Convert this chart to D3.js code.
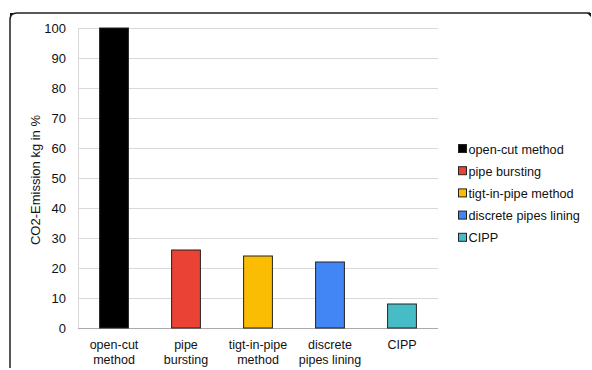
<!DOCTYPE html>
<html><head><meta charset="utf-8">
<script src="https://cdn.jsdelivr.net/npm/d3@7"></script>
<style>body{margin:0;background:#fff}svg{display:block;font-family:"Liberation Sans",Arial,sans-serif}</style>
</head><body><svg id="c" width="592" height="370"></svg>
<script>
const categories = ["open-cut method","pipe bursting","tigt-in-pipe method","discrete pipes lining","CIPP"];
const axisLabels = [["open-cut","method"],["pipe","bursting"],["tigt-in-pipe","method"],["discrete","pipes lining"],["CIPP"]];
const values = [100, 26, 24, 22, 8];
const colors = ["#000000","#EA4335","#FBBC04","#4285F4","#46BDC6"];
const yTicks = [0,10,20,30,40,50,60,70,80,90,100];
const yTitle = "CO2-Emission kg  in %";

const svg = d3.select("#c");
// frame with dark corner spots
svg.append("path").attr("d","M10,13 L17,13 Q10,13 10,20 Z").attr("fill","#111");
svg.append("path").attr("d","M587,13 L591,13 L591,17 Z").attr("fill","#111");
svg.append("path").attr("d","M10,368 L10,20 Q10,13 17,13 L590,13")
  .attr("fill","none").attr("stroke","#222").attr("stroke-width",1.5);

const x = d3.scaleBand().domain(categories).range([78,438]).paddingInner(0.6).paddingOuter(0.3);
const y = d3.scaleLinear().domain([0,100]).range([328,28]);

const g = svg.append("g");
g.selectAll("line.grid").data(yTicks).join("line").attr("class","grid")
  .attr("x1",78).attr("x2",438).attr("y1",d=>y(d)+0.5).attr("y2",d=>y(d)+0.5)
  .attr("stroke",d=>d===0?"#aaa":"#d9d9d9");
g.append("line").attr("x1",78.5).attr("x2",78.5).attr("y1",y(100)).attr("y2",y(0)).attr("stroke","#d9d9d9");

const yAxis = d3.axisLeft(y).tickValues(yTicks).tickSize(0).tickPadding(12);
const ya = svg.append("g").attr("transform","translate(78,0)").call(yAxis);
ya.select(".domain").remove();
ya.selectAll("text").attr("font-size",13).attr("fill","#111").attr("font-family","Liberation Sans, Arial, sans-serif");

svg.append("text").attr("transform","translate(40,180) rotate(-90)").attr("text-anchor","middle")
  .attr("font-size",13).attr("fill","#111").text(yTitle);

g.selectAll("rect.bar").data(values).join("rect").attr("class","bar")
  .attr("x",(d,i)=>x(categories[i])).attr("width",x.bandwidth())
  .attr("y",d=>y(d)).attr("height",d=>y(0)-y(d))
  .attr("fill",(d,i)=>colors[i]).attr("stroke","#222").attr("stroke-width",1);

const lab = svg.append("g");
axisLabels.forEach((lines,i)=>{
  const cx = x(categories[i])+x.bandwidth()/2;
  const t = lab.append("text").attr("text-anchor","middle").attr("font-size",12.5).attr("fill","#111")
    .attr("x",cx).attr("y",349);
  lines.forEach((l,j)=>t.append("tspan").attr("x",cx).attr("dy",j?15:0).text(l));
});

const leg = svg.append("g");
categories.forEach((c,i)=>{
  const yy = 149 + i*22.2;
  leg.append("rect").attr("x",458.5).attr("y",yy-4.5).attr("width",8).attr("height",8)
    .attr("fill",colors[i]).attr("stroke","#222").attr("stroke-width",1);
  leg.append("text").attr("x",468.5).attr("y",yy+4.5).attr("font-size",12.7).attr("fill","#111").text(c);
});
</script></body></html>
